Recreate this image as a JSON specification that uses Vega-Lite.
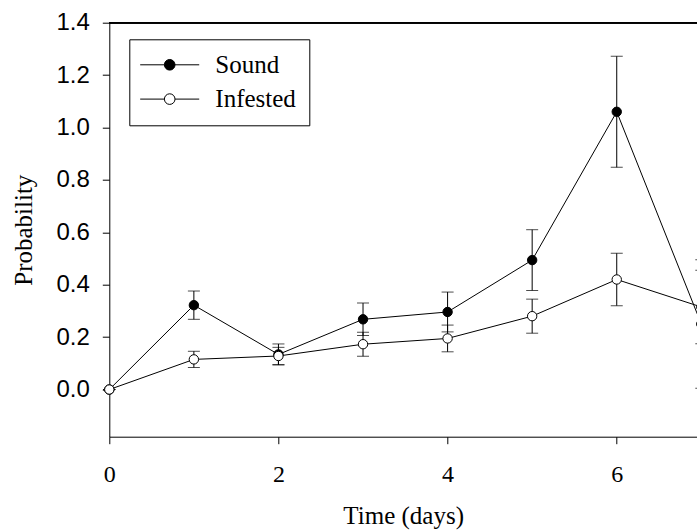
{
  "$schema": "https://vega.github.io/schema/vega-lite/v6.json",
  "autosize": "none",
  "padding": {"left": 109.3, "top": 22.7, "right": 0, "bottom": 94.3},
  "width": 587.7,
  "height": 414,
  "background": "white",
  "config": {
    "view": {"stroke": null},
    "axis": {"grid": false, "labelFlush": false, "domainColor": "black", "tickColor": "black", "domainWidth": 1, "tickWidth": 1, "tickSize": 7, "labelColor": "black", "titleColor": "black", "titleFont": "Liberation Serif", "titleFontWeight": "normal", "titleFontSize": 25},
    "legend": {"labelColor": "black", "strokeColor": "black", "strokeWidth": 1}
  },
  "data": {"values": [
    {"series": "Sound", "day": 0, "p": 0.0, "lo": 0.0, "hi": 0.0},
    {"series": "Sound", "day": 1, "p": 0.322, "lo": 0.268, "hi": 0.376},
    {"series": "Sound", "day": 2, "p": 0.134, "lo": 0.094, "hi": 0.174},
    {"series": "Sound", "day": 3, "p": 0.268, "lo": 0.206, "hi": 0.330},
    {"series": "Sound", "day": 4, "p": 0.296, "lo": 0.220, "hi": 0.372},
    {"series": "Sound", "day": 5, "p": 0.494, "lo": 0.378, "hi": 0.610},
    {"series": "Sound", "day": 6, "p": 1.06, "lo": 0.848, "hi": 1.272},
    {"series": "Sound", "day": 7, "p": 0.25, "lo": 0.005, "hi": 0.495},
    {"series": "Infested", "day": 0, "p": 0.0, "lo": 0.0, "hi": 0.0},
    {"series": "Infested", "day": 1, "p": 0.115, "lo": 0.084, "hi": 0.146},
    {"series": "Infested", "day": 2, "p": 0.128, "lo": 0.095, "hi": 0.161},
    {"series": "Infested", "day": 3, "p": 0.173, "lo": 0.127, "hi": 0.219},
    {"series": "Infested", "day": 4, "p": 0.195, "lo": 0.144, "hi": 0.246},
    {"series": "Infested", "day": 5, "p": 0.28, "lo": 0.215, "hi": 0.345},
    {"series": "Infested", "day": 6, "p": 0.42, "lo": 0.32, "hi": 0.52},
    {"series": "Infested", "day": 7, "p": 0.315, "lo": 0.175, "hi": 0.455}
  ]},
  "layer": [
    {
      "mark": {"type": "rule", "color": "black", "strokeWidth": 1, "clip": false},
      "encoding": {
        "x": {"field": "day", "type": "quantitative",
          "scale": {"domain": [0, 6.949], "nice": false, "zero": false},
          "axis": {"values": [0, 2, 4, 6], "format": "d", "title": "Time (days)", "labelFont": "Liberation Serif", "labelFontSize": 24, "labelPadding": 19, "titlePadding": 17}
        },
        "y": {"field": "lo", "type": "quantitative",
          "scale": {"domain": [-0.18, 1.4], "nice": false, "zero": false},
          "axis": {"values": [0, 0.2, 0.4, 0.6, 0.8, 1.0, 1.2, 1.4], "format": ".1f", "title": "Probability", "labelFont": "Liberation Sans", "labelFontSize": 24, "labelPadding": 13, "titlePadding": 19}
        },
        "y2": {"field": "hi"}
      }
    },
    {
      "mark": {"type": "rule", "color": "black", "strokeWidth": 1},
      "encoding": {"y": {"datum": 1.4}}
    },
    {
      "mark": {"type": "tick", "color": "black", "size": 12, "thickness": 1, "orient": "horizontal", "clip": false},
      "encoding": {"x": {"field": "day", "type": "quantitative"}, "y": {"field": "lo", "type": "quantitative"}}
    },
    {
      "mark": {"type": "tick", "color": "black", "size": 12, "thickness": 1, "orient": "horizontal", "clip": false},
      "encoding": {"x": {"field": "day", "type": "quantitative"}, "y": {"field": "hi", "type": "quantitative"}}
    },
    {
      "mark": {"type": "line", "color": "black", "strokeWidth": 1, "clip": false},
      "encoding": {"x": {"field": "day", "type": "quantitative"}, "y": {"field": "p", "type": "quantitative"}, "detail": {"field": "series"}}
    },
    {
      "mark": {"type": "circle", "size": 88, "stroke": "black", "strokeWidth": 1, "opacity": 1, "clip": false},
      "encoding": {
        "x": {"field": "day", "type": "quantitative"},
        "y": {"field": "p", "type": "quantitative"},
        "fill": {"field": "series", "type": "nominal",
          "scale": {"domain": ["Sound", "Infested"], "range": ["black", "white"]},
          "legend": {
            "orient": "none", "legendX": 20, "legendY": 16.6, "title": null,
            "strokeColor": "black", "padding": 13,
            "symbolType": "M-1.237,0L0.813,0M1.713,0L3.763,0M0.813,0A0.45,0.45 0 1,0 1.713,0A0.45,0.45 0 1,0 0.813,0Z",
            "symbolSize": 557, "symbolStrokeColor": "black", "symbolStrokeWidth": 1, "symbolOpacity": 1,
            "labelFont": "Liberation Serif", "labelFontSize": 25, "labelOffset": 48, "rowPadding": 8.3
          }
        }
      }
    }
  ]
}
